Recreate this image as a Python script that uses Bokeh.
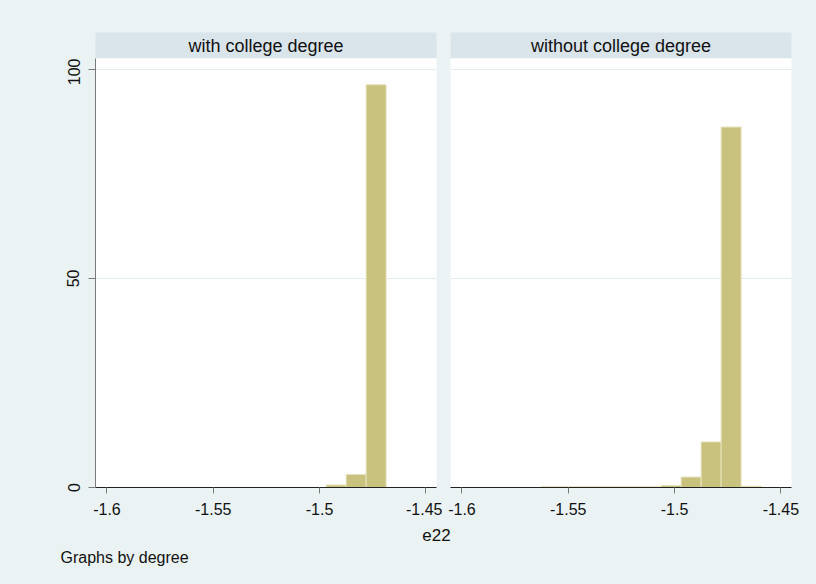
from bokeh.plotting import figure
from bokeh.layouts import column, row
from bokeh.models import Range1d, FixedTicker, Label
from bokeh.embed import file_html
from bokeh.resources import INLINE

# ---- data ----
panel_titles = ["with college degree", "without college degree"]
bin_width = 0.00939
bin_left = [-1.5626, -1.5532, -1.5438, -1.5344, -1.5250, -1.5157,
            -1.5063, -1.4969, -1.4875, -1.4781, -1.4687]
pct_with = [0, 0, 0, 0, 0, 0, 0, 0.6, 3.1, 96.3, 0]
pct_without = [0.2, 0.2, 0.2, 0.2, 0.2, 0.2, 0.5, 2.5, 10.9, 86.2, 0.3]
x_ticks = [-1.6, -1.55, -1.5, -1.45]
x_tick_labels = ["-1.6", "-1.55", "-1.5", "-1.45"]
y_ticks = [0, 50, 100]
y_tick_labels = ["0", "50", "100"]
x_title = "e22"
note = "Graphs by degree"

# ---- style ----
BG = "#eaf2f3"
STRIP = "#dae5eb"
GRID = "#e4edef"
BAR = "#c9c27e"
BAR_LINE = "#e6e2ba"
FONT = "Liberation Sans"
X_MIN, X_MAX = -1.6054, -1.4450
Y_MAX = 102.6

LW, RW = 442, 374


def header(text, width, mbl, mbr):
    h = figure(width=width, height=58, x_range=Range1d(0, 1), y_range=Range1d(0, 1),
               x_axis_location=None, y_axis_location=None,
               output_backend="svg", toolbar_location=None,
               min_border_left=mbl, min_border_right=mbr,
               min_border_top=32, min_border_bottom=0)
    h.background_fill_color = STRIP
    h.border_fill_color = BG
    h.outline_line_color = None
    h.grid.visible = False
    h.add_layout(Label(x=0.5, y=0.5, text=text, text_align="center",
                       text_baseline="middle", text_font=FONT,
                       text_font_size="18px", text_color="#111111"))
    return h


def panel(values, width, mbl, mbr, show_y):
    p = figure(width=width, height=460,
               x_range=Range1d(X_MIN, X_MAX), y_range=Range1d(0, Y_MAX),
               y_axis_location="left" if show_y else None,
               output_backend="svg", toolbar_location=None,
               min_border_left=mbl, min_border_right=mbr,
               min_border_top=0, min_border_bottom=31)
    p.background_fill_color = "white"
    p.border_fill_color = BG
    p.outline_line_color = None
    p.xgrid.visible = False
    for g in p.ygrid:
        g.ticker = FixedTicker(ticks=y_ticks)
        g.grid_line_color = GRID
    if show_y:
        ax = p.yaxis[0]
        ax.ticker = FixedTicker(ticks=y_ticks)
        ax.major_label_overrides = dict(zip(y_ticks, y_tick_labels))
        ax.major_label_orientation = "vertical"
        ax.major_tick_out = 7
        ax.major_tick_in = 0
        ax.minor_tick_out = 0
        ax.minor_tick_in = 0
        ax.axis_line_color = "#7a7a7a"
        ax.major_tick_line_color = "#7a7a7a"
        ax.major_label_standoff = 9
        ax.major_label_text_font = FONT
        ax.major_label_text_font_size = "16px"
        ax.major_label_text_color = "#111111"
    xa = p.xaxis[0]
    xa.ticker = FixedTicker(ticks=x_ticks)
    xa.major_label_overrides = dict(zip(x_ticks, x_tick_labels))
    xa.major_tick_out = 6
    xa.major_tick_in = 0
    xa.minor_tick_out = 0
    xa.minor_tick_in = 0
    xa.axis_line_color = "#222222"
    xa.major_tick_line_color = "#7a7a7a"
    xa.major_label_standoff = 9
    xa.major_label_text_font = FONT
    xa.major_label_text_font_size = "16px"
    xa.major_label_text_color = "#111111"

    lefts = [l for l, v in zip(bin_left, values) if v > 0]
    rights = [l + bin_width for l, v in zip(bin_left, values) if v > 0]
    tops = [v for v in values if v > 0]
    p.quad(left=lefts, right=rights, bottom=0, top=tops,
           fill_color=BAR, line_color=BAR_LINE, line_width=1)
    return p


hL = header(panel_titles[0], LW, 95, 6)
hR = header(panel_titles[1], RW, 8, 25)
pL = panel(pct_with, LW, 95, 6, True)
pR = panel(pct_without, RW, 8, 25, False)

bottom = figure(width=816, height=66, x_range=Range1d(0, 816), y_range=Range1d(0, 66),
                x_axis_location=None, y_axis_location=None,
                output_backend="svg", toolbar_location=None,
                min_border_left=0, min_border_right=0,
                min_border_top=0, min_border_bottom=0)
bottom.background_fill_color = BG
bottom.border_fill_color = BG
bottom.outline_line_color = None
bottom.grid.visible = False
bottom.add_layout(Label(x=436, y=50, text=x_title, text_align="center",
                        text_baseline="middle", text_font=FONT,
                        text_font_size="17px", text_color="#111111"))
bottom.add_layout(Label(x=60, y=27, text=note, text_align="left",
                        text_baseline="middle", text_font=FONT,
                        text_font_size="16px", text_color="#111111"))

st = {"background-color": BG}
layout = column(row(hL, hR, spacing=0, styles=st),
                row(pL, pR, spacing=0, styles=st),
                bottom, spacing=0, styles=st)

open("out.html", "w").write(file_html(layout, INLINE))
